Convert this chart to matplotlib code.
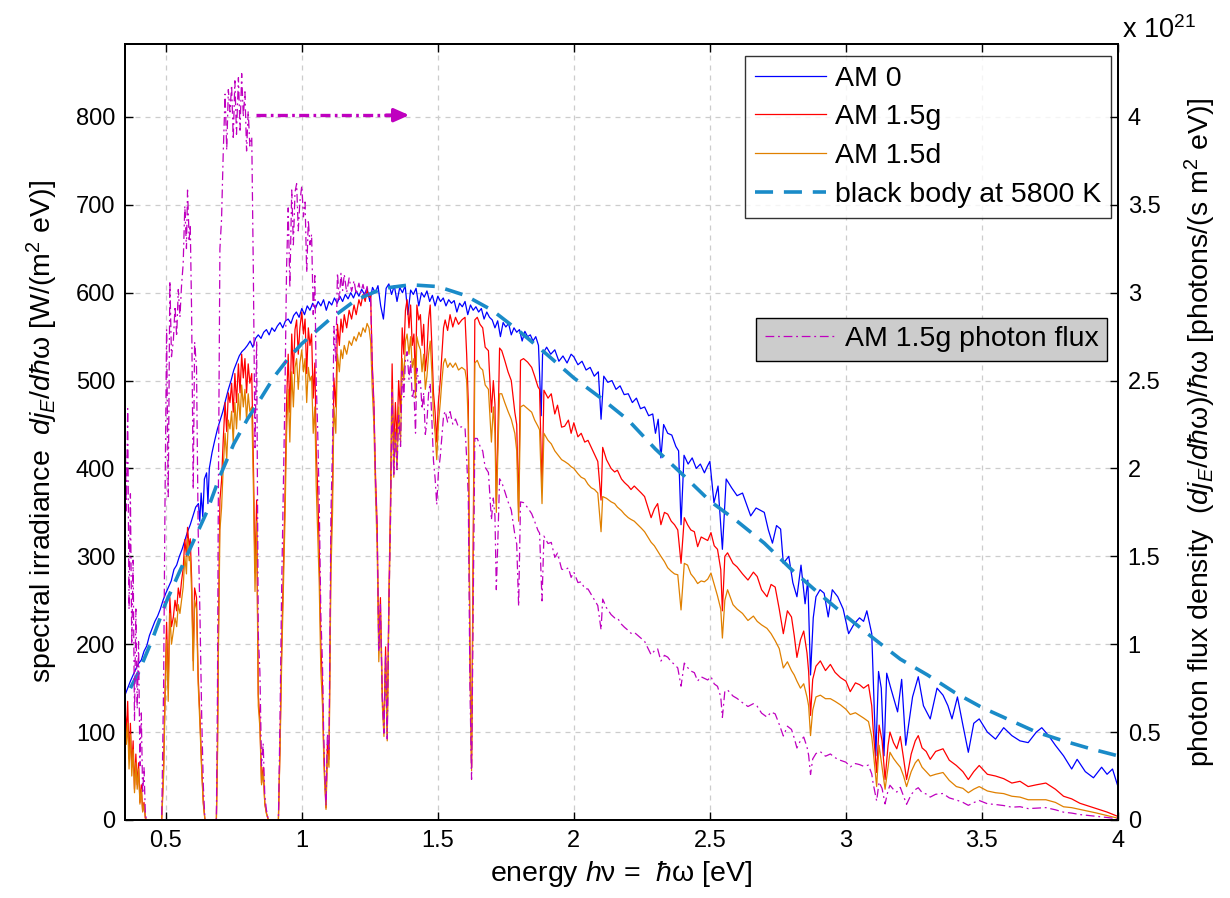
import numpy as np
import matplotlib
matplotlib.use("Agg")
import matplotlib.pyplot as plt

plt.rcParams['font.family'] = ['Liberation Sans', 'DejaVu Sans']
plt.rcParams['mathtext.fontset'] = 'custom'
plt.rcParams['mathtext.rm'] = 'Liberation Sans'
plt.rcParams['mathtext.it'] = 'Liberation Sans:italic'
plt.rcParams['mathtext.bf'] = 'Liberation Sans:bold'

# ---------------- data ----------------
# AM 0 extraterrestrial spectrum  [W/(m^2 eV)]
am0_e = [0.350, 0.360, 0.370, 0.380, 0.390, 0.400, 0.410, 0.420, 0.430, 0.440, 0.450, 0.460, 0.470, 0.480,
         0.490, 0.500, 0.510, 0.520, 0.530, 0.540, 0.550, 0.560, 0.570, 0.580, 0.590, 0.600, 0.610, 0.620,
         0.625, 0.630, 0.636, 0.642, 0.650, 0.655, 0.660, 0.670, 0.680, 0.690, 0.700, 0.710, 0.720, 0.730,
         0.740, 0.750, 0.760, 0.770, 0.780, 0.790, 0.800, 0.810, 0.820, 0.830, 0.840, 0.850, 0.860, 0.870,
         0.880, 0.890, 0.900, 0.910, 0.920, 0.930, 0.940, 0.950, 0.960, 0.970, 0.980, 0.990, 1.000, 1.010,
         1.020, 1.030, 1.040, 1.050, 1.060, 1.070, 1.080, 1.090, 1.100, 1.110, 1.120, 1.130, 1.140, 1.150,
         1.160, 1.170, 1.180, 1.190, 1.200, 1.210, 1.220, 1.230, 1.240, 1.250, 1.260, 1.270, 1.280, 1.290,
         1.300, 1.310, 1.320, 1.330, 1.340, 1.350, 1.360, 1.370, 1.380, 1.390, 1.400, 1.410, 1.420, 1.430,
         1.440, 1.450, 1.460, 1.470, 1.480, 1.490, 1.500, 1.510, 1.520, 1.530, 1.540, 1.550, 1.560, 1.570,
         1.580, 1.590, 1.600, 1.610, 1.620, 1.630, 1.640, 1.650, 1.660, 1.670, 1.680, 1.690, 1.700, 1.710,
         1.720, 1.730, 1.740, 1.750, 1.760, 1.770, 1.780, 1.790, 1.800, 1.810, 1.820, 1.830, 1.840, 1.850,
         1.860, 1.870, 1.880, 1.885, 1.900, 1.915, 1.930, 1.945, 1.960, 1.975, 1.990, 2.000, 2.015, 2.030,
         2.045, 2.060, 2.075, 2.090, 2.100, 2.110, 2.125, 2.140, 2.155, 2.170, 2.185, 2.200, 2.215, 2.230,
         2.245, 2.260, 2.275, 2.290, 2.300, 2.310, 2.320, 2.330, 2.345, 2.360, 2.375, 2.385, 2.394, 2.405,
         2.420, 2.435, 2.450, 2.465, 2.480, 2.490, 2.500, 2.515, 2.530, 2.546, 2.560, 2.580, 2.600, 2.620,
         2.650, 2.670, 2.700, 2.715, 2.730, 2.745, 2.760, 2.770, 2.790, 2.805, 2.820, 2.835, 2.850, 2.860,
         2.870, 2.880, 2.890, 2.905, 2.920, 2.935, 2.950, 2.970, 2.990, 3.010, 3.030, 3.050, 3.065, 3.077,
         3.095, 3.110, 3.120, 3.130, 3.140, 3.150, 3.165, 3.190, 3.205, 3.220, 3.245, 3.266, 3.285, 3.310,
         3.335, 3.357, 3.375, 3.390, 3.410, 3.430, 3.450, 3.470, 3.490, 3.520, 3.550, 3.580, 3.610, 3.640,
         3.670, 3.700, 3.720, 3.745, 3.770, 3.800, 3.830, 3.850, 3.880, 3.910, 3.940, 3.960, 3.980, 4.000]
am0_v = [142, 150, 158, 165, 172, 178, 182, 192, 198, 210, 218, 226, 232, 240,
         250, 258, 265, 272, 285, 290, 300, 308, 318, 328, 336, 346, 356, 360,
         340, 372, 345, 388, 395, 360, 400, 418, 432, 445, 455, 465, 478, 490,
         500, 512, 520, 528, 533, 536, 540, 545, 538, 548, 552, 548, 555, 558,
         552, 560, 556, 562, 566, 560, 568, 570, 565, 574, 578, 572, 582, 575,
         585, 580, 588, 582, 590, 585, 592, 580, 590, 586, 594, 588, 596, 590,
         598, 593, 600, 594, 602, 596, 604, 598, 605, 590, 606, 600, 608, 585,
         570, 605, 610, 598, 608, 590, 606, 600, 608, 575, 603, 598, 605, 585,
         600, 595, 602, 590, 597, 585, 596, 590, 594, 585, 592, 588, 591, 578,
         588, 584, 590, 575, 586, 580, 584, 578, 582, 570, 578, 572, 569, 560,
         568, 550, 566, 561, 565, 552, 560, 555, 558, 545, 556, 550, 552, 545,
         550, 540, 460, 530, 538, 530, 535, 522, 528, 520, 530, 527, 518, 522,
         512, 515, 505, 510, 456, 505, 498, 500, 490, 494, 484, 485, 475, 480,
         468, 470, 460, 462, 440, 456, 412, 450, 440, 438, 425, 420, 336, 415,
         405, 412, 400, 405, 395, 402, 408, 361, 380, 308, 388, 378, 369, 372,
         346, 355, 350, 330, 315, 335, 331, 292, 300, 270, 254, 290, 246, 273,
         165, 230, 254, 262, 258, 231, 262, 254, 240, 212, 223, 230, 226, 238,
         212, 73, 169, 150, 73, 167, 150, 123, 160, 85, 140, 163, 130, 115,
         150, 142, 130, 115, 140, 108, 77, 110, 115, 100, 92, 105, 96, 90,
         88, 100, 105, 96, 85, 73, 58, 69, 55, 48, 60, 52, 58, 38]

# AM 1.5 spectra (global and direct) on a common energy grid [W/(m^2 eV)]
am15_e = [0.350, 0.355, 0.360, 0.365, 0.370, 0.375, 0.380, 0.385, 0.390, 0.395, 0.400, 0.405, 0.410, 0.415,
          0.420, 0.425, 0.430, 0.485, 0.492, 0.497, 0.503, 0.509, 0.515, 0.521, 0.528, 0.534, 0.540, 0.546,
          0.552, 0.558, 0.564, 0.570, 0.576, 0.580, 0.586, 0.590, 0.595, 0.601, 0.606, 0.613, 0.619, 0.626,
          0.632, 0.638, 0.644, 0.686, 0.690, 0.693, 0.699, 0.705, 0.711, 0.718, 0.724, 0.730, 0.736, 0.742,
          0.748, 0.754, 0.760, 0.767, 0.773, 0.779, 0.785, 0.791, 0.797, 0.803, 0.809, 0.816, 0.822, 0.828,
          0.834, 0.840, 0.846, 0.852, 0.858, 0.864, 0.870, 0.877, 0.914, 0.920, 0.926, 0.932, 0.938, 0.944,
          0.950, 0.956, 0.963, 0.969, 0.975, 0.981, 0.987, 0.993, 1.000, 1.006, 1.012, 1.018, 1.024, 1.030,
          1.036, 1.042, 1.048, 1.053, 1.058, 1.064, 1.070, 1.076, 1.080, 1.083, 1.089, 1.094, 1.100, 1.104,
          1.107, 1.113, 1.118, 1.125, 1.131, 1.138, 1.144, 1.150, 1.156, 1.165, 1.174, 1.183, 1.192, 1.200,
          1.210, 1.217, 1.225, 1.233, 1.240, 1.247, 1.253, 1.259, 1.265, 1.271, 1.277, 1.283, 1.289, 1.296,
          1.302, 1.308, 1.314, 1.320, 1.326, 1.332, 1.338, 1.344, 1.350, 1.356, 1.363, 1.369, 1.375, 1.381,
          1.387, 1.394, 1.400, 1.406, 1.412, 1.418, 1.423, 1.430, 1.436, 1.442, 1.448, 1.454, 1.460, 1.466,
          1.472, 1.478, 1.484, 1.490, 1.496, 1.502, 1.509, 1.515, 1.521, 1.527, 1.536, 1.545, 1.555, 1.565,
          1.576, 1.588, 1.600, 1.606, 1.612, 1.618, 1.624, 1.630, 1.636, 1.645, 1.655, 1.665, 1.674, 1.686,
          1.697, 1.704, 1.710, 1.715, 1.720, 1.727, 1.735, 1.746, 1.758, 1.770, 1.783, 1.790, 1.797, 1.804,
          1.815, 1.830, 1.845, 1.856, 1.868, 1.874, 1.883, 1.890, 1.905, 1.917, 1.930, 1.940, 1.955, 1.966,
          1.980, 1.990, 2.000, 2.015, 2.027, 2.040, 2.052, 2.064, 2.076, 2.088, 2.100, 2.106, 2.120, 2.137,
          2.150, 2.160, 2.175, 2.186, 2.200, 2.210, 2.222, 2.235, 2.248, 2.260, 2.272, 2.284, 2.296, 2.308,
          2.320, 2.333, 2.345, 2.358, 2.370, 2.382, 2.394, 2.406, 2.418, 2.430, 2.443, 2.455, 2.468, 2.480,
          2.492, 2.504, 2.516, 2.528, 2.540, 2.546, 2.555, 2.565, 2.585, 2.600, 2.620, 2.640, 2.660, 2.674,
          2.690, 2.710, 2.725, 2.740, 2.755, 2.770, 2.785, 2.800, 2.810, 2.820, 2.833, 2.845, 2.857, 2.863,
          2.870, 2.878, 2.890, 2.906, 2.925, 2.943, 2.960, 2.980, 3.000, 3.016, 3.035, 3.050, 3.065, 3.083,
          3.095, 3.100, 3.113, 3.122, 3.133, 3.144, 3.155, 3.162, 3.175, 3.187, 3.200, 3.212, 3.223, 3.240,
          3.255, 3.266, 3.280, 3.295, 3.310, 3.330, 3.357, 3.380, 3.406, 3.430, 3.450, 3.470, 3.490, 3.520,
          3.550, 3.580, 3.610, 3.640, 3.670, 3.700, 3.735, 3.770, 3.800, 3.830, 3.860, 3.890, 3.920, 3.960,
          4.000]
am15g_v = [128, 100, 135, 70, 110, 60, 90, 35, 75, 40, 65, 20, 40, 10,
           20, 2, 0, 0, 60, 142, 225, 150, 253, 220, 231, 250, 238, 264,
           253, 272, 286, 319, 300, 333, 310, 320, 275, 181, 264, 253, 164, 114,
           60, 20, 0, 0, 80, 197, 364, 386, 431, 475, 442, 486, 475, 497,
           464, 508, 475, 519, 486, 530, 503, 525, 486, 519, 497, 508, 408, 281,
           364, 142, 114, 42, 60, 19, 8, 0, 0, 86, 197, 281, 364, 475,
           530, 464, 553, 508, 558, 569, 530, 560, 578, 553, 570, 508, 560, 540,
           553, 480, 520, 420, 380, 308, 200, 153, 90, 58, 14, 86, 69, 200,
           308, 380, 503, 470, 564, 540, 570, 555, 575, 560, 580, 570, 586, 575,
           592, 585, 598, 590, 603, 595, 597, 519, 475, 392, 336, 197, 253, 142,
           103, 197, 97, 253, 364, 519, 419, 475, 431, 500, 464, 560, 530, 580,
           592, 560, 586, 540, 553, 500, 586, 569, 575, 540, 564, 511, 530, 570,
           586, 540, 486, 464, 430, 475, 500, 530, 560, 569, 557, 575, 561, 572,
           564, 569, 572, 530, 475, 197, 60, 308, 569, 572, 564, 560, 538, 534,
           464, 500, 473, 360, 428, 537, 534, 523, 510, 500, 464, 450, 350, 523,
           525, 521, 515, 505, 493, 490, 376, 489, 480, 485, 462, 472, 447, 448,
           455, 440, 452, 436, 440, 430, 432, 424, 416, 408, 364, 424, 410, 400,
           396, 398, 388, 384, 380, 376, 380, 376, 372, 368, 356, 344, 354, 360,
           336, 350, 348, 340, 336, 330, 292, 344, 336, 330, 328, 311, 322, 320,
           318, 327, 312, 308, 285, 238, 300, 304, 292, 288, 280, 273, 282, 277,
           262, 254, 268, 265, 240, 212, 238, 231, 210, 185, 205, 215, 190, 169,
           119, 160, 175, 181, 170, 177, 168, 162, 158, 146, 156, 154, 150, 154,
           130, 104, 54, 108, 90, 46, 85, 100, 88, 81, 95, 70, 46, 75,
           90, 96, 82, 78, 69, 78, 81, 68, 62, 55, 46, 55, 62, 52,
           50, 47, 42, 44, 38, 40, 42, 35, 27, 24, 19, 16, 13, 9,
           4]
am15d_v = [119, 86, 110, 58, 97, 50, 80, 31, 65, 35, 58, 18, 35, 9,
           18, 2, 0, 0, 50, 130, 205, 135, 235, 200, 215, 230, 220, 245,
           235, 250, 265, 300, 280, 320, 295, 300, 260, 170, 250, 240, 155, 105,
           55, 18, 0, 0, 70, 180, 330, 355, 400, 440, 410, 455, 445, 465,
           430, 475, 445, 485, 455, 495, 470, 490, 455, 485, 465, 470, 380, 260,
           340, 130, 105, 40, 55, 18, 7, 0, 0, 80, 180, 260, 340, 440,
           490, 430, 510, 470, 515, 525, 490, 520, 535, 510, 525, 475, 515, 500,
           505, 440, 470, 380, 330, 270, 170, 130, 80, 50, 12, 75, 60, 180,
           280, 350, 470, 440, 530, 510, 535, 525, 540, 530, 545, 540, 550, 545,
           555, 550, 560, 555, 565, 560, 545, 490, 450, 370, 310, 180, 235, 130,
           95, 185, 90, 235, 340, 490, 390, 445, 400, 470, 430, 525, 500, 545,
           553, 530, 550, 515, 525, 480, 550, 540, 535, 510, 530, 490, 505, 530,
           545, 510, 460, 440, 410, 450, 475, 500, 520, 525, 515, 520, 515, 520,
           512, 515, 512, 500, 450, 185, 56, 290, 520, 523, 515, 512, 495, 490,
           430, 470, 440, 350, 410, 485, 485, 475, 465, 456, 440, 420, 340, 470,
           472, 468, 464, 455, 448, 444, 360, 440, 432, 428, 420, 416, 410, 408,
           405, 402, 400, 394, 390, 388, 382, 378, 376, 372, 328, 368, 366, 362,
           360, 356, 352, 348, 344, 342, 340, 336, 332, 328, 322, 316, 312, 306,
           300, 294, 287, 283, 280, 279, 239, 292, 290, 280, 275, 269, 272, 271,
           274, 281, 268, 255, 240, 207, 250, 262, 245, 240, 235, 227, 232, 226,
           222, 218, 212, 204, 195, 173, 180, 170, 165, 158, 150, 155, 140, 130,
           96, 125, 140, 142, 138, 138, 135, 131, 126, 120, 122, 119, 116, 112,
           95, 80, 38, 85, 60, 35, 60, 77, 70, 65, 60, 50, 38, 55,
           65, 69, 60, 55, 50, 52, 54, 45, 38, 36, 31, 35, 38, 33,
           31, 30, 27, 26, 23, 23, 23, 20, 15, 14, 12, 10, 8, 5,
           2]

# black body at 5800 K, scaled  [W/(m^2 eV)]
bb_e = [0.37, 0.40, 0.45, 0.50, 0.55, 0.60, 0.65, 0.70, 0.75, 0.80, 0.85, 0.90, 0.95, 1.00, 1.10,
        1.20, 1.30, 1.40, 1.50, 1.60, 1.70, 1.80, 1.90, 2.00, 2.10, 2.20, 2.30, 2.40, 2.50, 2.60,
        2.70, 2.80, 2.90, 3.00, 3.10, 3.20, 3.30, 3.40, 3.50, 3.60, 3.70, 3.80, 3.90, 4.00]
bb_v = [150, 168, 205, 247, 282, 316, 350, 392, 428, 456, 480, 505, 525, 542, 569,
        592, 605, 609, 607, 597, 580, 556, 530, 503, 480, 455, 422, 393, 363, 340,
        315, 285, 258, 232, 207, 183, 165, 145, 128, 114, 100, 90, 81, 73]

Q_E = 1.602e-19  # J per eV
# AM 1.5g photon flux in units of 1e21 photons/(s m^2 eV)
am15_e_arr = np.array(am15_e)
photon_flux = np.array(am15g_v) / (am15_e_arr * Q_E) / 1e21

# ---------------- figure ----------------
fig = plt.figure(figsize=(12.3, 8.98), dpi=100)
ax = fig.add_axes([0.1016, 0.0869, 0.8073, 0.8641])
ax2 = ax.twinx()

C_AM0 = '#0000ff'
C_G = '#ff0000'
C_D = '#e08000'
C_BB = '#1a8bc8'
C_PH = '#bf00bf'

ax.plot(am0_e, am0_v, color=C_AM0, lw=0.9, label='AM 0')
ax.plot(am15_e, am15g_v, color=C_G, lw=0.9, label='AM 1.5g')
ax.plot(am15_e, am15d_v, color=C_D, lw=0.9, label='AM 1.5d')
ax.plot(bb_e, bb_v, color=C_BB, lw=2.6, linestyle=(0, (5, 3)), label='black body at 5800 K')

ymax = 883
ax.set_xlim(0.35, 4.0)
ax.set_ylim(0, ymax)
ax2.set_ylim(0, ymax * 0.005)

ax2.plot(am15_e, photon_flux, color=C_PH, lw=0.9, linestyle=(0, (7, 3, 1.5, 3)),
         label='AM 1.5g photon flux')

# arrow pointing to the right axis
ax2.plot([0.83, 1.33], [4.01, 4.01], color=C_PH, lw=2.4, linestyle=(0, (3, 1.3, 0.8, 1.3)))
ax2.annotate('', xy=(1.395, 4.01), xytext=(1.31, 4.01),
             arrowprops=dict(arrowstyle='-|>,head_length=0.9,head_width=0.4', color=C_PH, lw=2.4,
                             shrinkA=0, shrinkB=0))

ax.set_xticks([0.5, 1, 1.5, 2, 2.5, 3, 3.5, 4])
ax.set_xticklabels(['0.5', '1', '1.5', '2', '2.5', '3', '3.5', '4'])
ax.set_yticks(range(0, 900, 100))
ax2.set_yticks([0, 0.5, 1, 1.5, 2, 2.5, 3, 3.5, 4])
ax2.set_yticklabels(['0', '0.5', '1', '1.5', '2', '2.5', '3', '3.5', '4'])

fs = 17
lfs = 20.5
ax.tick_params(axis='both', direction='in', length=6, width=1.0, labelsize=fs, top=True, pad=7)
ax2.tick_params(axis='y', direction='in', length=6, width=1.0, labelsize=fs, pad=7)
for a in (ax, ax2):
    for s in a.spines.values():
        s.set_linewidth(1.4)

ax.grid(True, color='#cccccc', linestyle=(0, (4, 4)), linewidth=0.9)
ax.set_axisbelow(True)

ax.set_xlabel(r'energy $h\mathrm{\nu}$ =  $\hbar\mathrm{\omega}$ [eV]', fontsize=lfs, labelpad=5)
ax.set_ylabel(r'spectral irradiance  $dj_E/d\hbar\mathrm{\omega}$ [W/(m$^2$ eV)]', fontsize=lfs, labelpad=11)
ax2.set_ylabel(r'photon flux density  $(dj_E/d\hbar\mathrm{\omega})/\hbar\mathrm{\omega}$ [photons/(s m$^2$ eV)]',
               fontsize=lfs, labelpad=16)

fig.text(0.912, 0.966, r'x 10$^{21}$', fontsize=19.5, ha='left', va='center')

leg1 = ax.legend(loc='upper right', bbox_to_anchor=(0.993, 0.985), fontsize=lfs, frameon=True,
                 fancybox=False, edgecolor='black', handlelength=2.5, handletextpad=0.3,
                 borderpad=0.35, labelspacing=0.45, borderaxespad=0)
leg1.get_frame().set_linewidth(1.0)
leg1.set_zorder(10)

leg2 = ax2.legend(loc='upper right', bbox_to_anchor=(0.989, 0.647), fontsize=lfs, frameon=True,
                  fancybox=False, edgecolor='black', facecolor='#cccccc', framealpha=1,
                  handlelength=2.5, handletextpad=0.3, borderpad=0.3, borderaxespad=0)
leg2.get_frame().set_linewidth(1.0)

fig.savefig('out.png', dpi=100)
